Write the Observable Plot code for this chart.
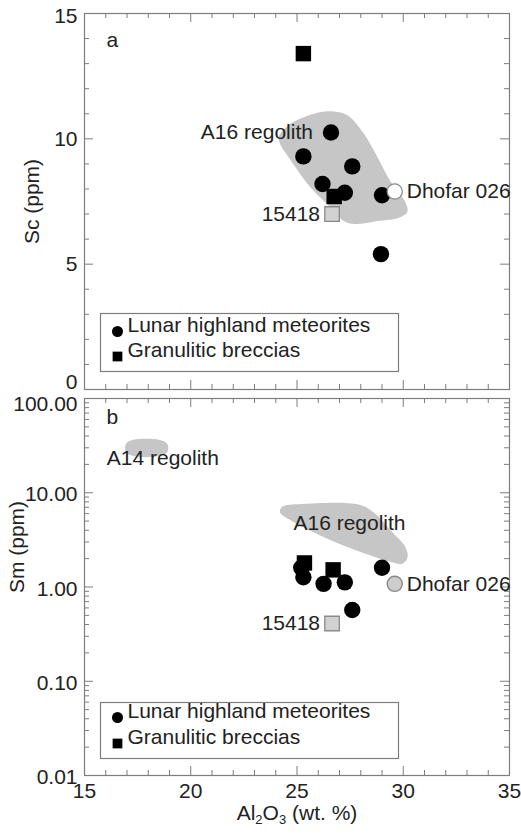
<!DOCTYPE html>
<html><head><meta charset="utf-8">
<script src="https://cdn.jsdelivr.net/npm/d3@7"></script>
<script src="https://cdn.jsdelivr.net/npm/@observablehq/plot@0.6"></script>
<style>
body{margin:0;background:#fff;}
#wrap{position:relative;width:521px;height:835px;font-family:"Liberation Sans",Arial,Helvetica,sans-serif;}
#wrap svg{position:absolute;left:0;overflow:visible;}
</style></head><body><div id="wrap"></div>
<script>
// ---------- axes / ticks ----------
const xDomain = [15, 35];
const xTickLabels = [15, 20, 25, 30, 35];
const xMinorTicks = [16,17,18,19,21,22,23,24,26,27,28,29,31,32,33,34];
const yDomainA = [0, 15];
const yTickLabelsA = [0, 5, 10, 15];
const yMinorTicksA = [1,2,3,4,6,7,8,9,11,12,13,14];
const yDomainB = [0.01, 100];
const yTickLabelsB = [0.01, 0.1, 1, 10, 100];
const logMultipliers = [2,3,4,5,6,7,8,9];
const yLabelA = "Sc (ppm)";
const yLabelB = "Sm (ppm)";
const xLabel = "Al2O3 (wt. %)";
const legendLabels = ["Lunar highland meteorites", "Granulitic breccias"];
const legendSymbols = ["circle", "square"];

// ---------- panel a data (Sc) ----------
const circlesA_x = [26.6, 25.3, 27.6, 26.2, 27.25, 29.0, 28.95];
const circlesA_y = [10.25, 9.3, 8.9, 8.2, 7.85, 7.75, 5.4];
const squaresA_x = [25.3, 26.75];
const squaresA_y = [13.4, 7.7];
const dhofarA = [29.6, 7.9];
const s15418A = [26.65, 7.0];
const regionA_x = [24.15, 24.7, 25.8, 26.5, 27.35, 28.15, 28.8, 29.4, 30.05, 30.2, 29.8, 28.8, 27.7, 27.2, 26.6, 25.65, 24.7, 24.2];
const regionA_y = [10.1, 10.6, 11.0, 11.1, 10.95, 10.2, 9.25, 8.3, 7.55, 7.1, 6.85, 6.72, 6.6, 6.72, 7.25, 8.05, 9.15, 9.8];
const annoA_text = ["A16 regolith"];
const annoA_x = [25.75];
const annoA_y = [10.25];

// ---------- panel b data (Sm) ----------
const circlesB_x = [25.2, 25.3, 26.25, 27.25, 27.6, 29.0];
const circlesB_y = [1.6, 1.27, 1.08, 1.12, 0.57, 1.6];
const squaresB_x = [25.35, 26.7];
const squaresB_y = [1.8, 1.52];
const dhofarB = [29.6, 1.08];
const s15418B = [26.65, 0.41];
const regionB16_x = [24.3, 25.2, 27.9, 28.6, 29.4, 30.1, 30.2, 29.95, 29.4, 28.0, 26.3, 24.7, 24.2];
const regionB16_y = [7.1, 7.6, 7.5, 6.2, 4.0, 2.65, 2.05, 1.76, 1.85, 2.35, 3.35, 5.1, 6.2];
const regionB14_x = [16.95, 17.3, 18.5, 18.9, 18.9, 18.5, 17.3, 16.95];
const regionB14_y = [33, 36.5, 36.5, 33, 27, 24.5, 24.5, 27];
const annoB16_text = ["A16 regolith"];
const annoB16_x = [27.47];
const annoB16_y = [4.7];
const annoB14_text = ["A14 regolith"];
const annoB14_x = [16.05];
const annoB14_y = [23.5];

const pointLabels = ["Dhofar 026", "15418"];

// ---------- style ----------
const FONT = "Liberation Sans, Arial, Helvetica, sans-serif";
const FS = 21;
const AX = "#7d7d7d";
const TXT = "#222";
const REG = "#c6c6c6";
const W = 521, ML = 84, MR = 12;
const PW = W - ML - MR;

const idx = a => a.map((_, i) => i);

function frameMarks(H, yMaj, yMin) {
  const t = (data, o) => o.kind === "x"
    ? Plot.tickX(data, {x: d => d, stroke: AX, strokeWidth: 1, ...o.inset})
    : Plot.tickY(data, {y: d => d, stroke: AX, strokeWidth: 1, ...o.inset});
  const xMaj = xTickLabels;
  return [
    t(xMaj, {kind: "x", inset: {insetTop: H - 9}}),
    t(xMaj, {kind: "x", inset: {insetBottom: H - 9}}),
    t(xMinorTicks, {kind: "x", inset: {insetTop: H - 5}}),
    t(xMinorTicks, {kind: "x", inset: {insetBottom: H - 5}}),
    t(yMaj, {kind: "y", inset: {insetRight: PW - 9}}),
    t(yMaj, {kind: "y", inset: {insetLeft: PW - 9}}),
    t(yMin, {kind: "y", inset: {insetRight: PW - 5}}),
    t(yMin, {kind: "y", inset: {insetLeft: PW - 5}}),
    Plot.frame({stroke: AX, strokeWidth: 1.2})
  ];
}

function legend(rowDy) {
  const out = [];
  legendLabels.forEach((lab, i) => {
    out.push(Plot.dot([lab], {frameAnchor: "bottom-left", dx: 33, dy: rowDy[i], symbol: legendSymbols[i], r: 5.5, fill: "#000", stroke: "none"}));
    out.push(Plot.text([lab], {text: d => d, frameAnchor: "bottom-left", dx: 43, dy: rowDy[i], textAnchor: "start", fontSize: FS, fill: TXT}));
  });
  return out;
}

// ---------- panel a ----------
const HA = 397, MTA = 13, MBA = 8;
const labelMarksA = yTickLabelsA.map((v, i) => Plot.text([v], {
  y: d => d, text: d => String(d), frameAnchor: "left", dx: -7,
  dy: i === 0 ? -7 : i === yTickLabelsA.length - 1 ? 3 : 0,
  textAnchor: "end", fontSize: FS, fill: TXT}));
const plotA = Plot.plot({
  width: W, height: HA, marginTop: MTA, marginBottom: MBA, marginLeft: ML, marginRight: MR,
  style: {fontFamily: FONT, fontSize: FS + "px", background: "transparent", overflow: "visible"},
  x: {domain: xDomain, axis: null},
  y: {domain: yDomainA, axis: null},
  marks: [
    Plot.line(idx(regionA_x), {x: i => regionA_x[i], y: i => regionA_y[i], fill: REG, stroke: "none", curve: "catmull-rom-closed"}),
    ...frameMarks(HA - MTA - MBA, yTickLabelsA, yMinorTicksA),
    ...labelMarksA,
    Plot.text([yLabelA], {text: d => d, frameAnchor: "left", dx: -52, rotate: -90, textAnchor: "middle", fontSize: FS, fill: TXT}),
    Plot.text(["a"], {text: d => d, frameAnchor: "top-left", dx: 22, dy: 19, textAnchor: "start", fontSize: FS, fill: TXT}),
    Plot.frame({stroke: AX, strokeWidth: 1.2, insetLeft: 16, insetRight: 111, insetTop: 300, insetBottom: 18}),
    ...legend([-58, -33]),
    Plot.text(idx(annoA_text), {x: i => annoA_x[i], y: i => annoA_y[i], text: i => annoA_text[i], textAnchor: "end", fontSize: FS, fill: TXT}),
    Plot.dot(idx(circlesA_x), {x: i => circlesA_x[i], y: i => circlesA_y[i], r: 8.2, fill: "#000", stroke: "none"}),
    Plot.dot(idx(squaresA_x), {x: i => squaresA_x[i], y: i => squaresA_y[i], r: 8.7, symbol: "square", fill: "#000", stroke: "none"}),
    Plot.dot([dhofarA], {x: d => d[0], y: d => d[1], r: 7.6, fill: "#fff", stroke: "#8a8a8a", strokeWidth: 1.3}),
    Plot.dot([s15418A], {x: d => d[0], y: d => d[1], r: 8.2, symbol: "square", fill: "#d2d2d2", stroke: "#8a8a8a", strokeWidth: 1.3}),
    Plot.text([dhofarA], {x: d => d[0], y: d => d[1], text: () => pointLabels[0], dx: 12, textAnchor: "start", fontSize: FS, fill: TXT}),
    Plot.text([s15418A], {x: d => d[0], y: d => d[1], text: () => pointLabels[1], dx: -12, textAnchor: "end", fontSize: FS, fill: TXT})
  ]
});

// ---------- panel b ----------
const HB = 438, MTB = 1, MBB = 60;
const logMinor = yTickLabelsB.slice(0, -1).flatMap(v => logMultipliers.map(m => v * m));
const fmt2 = d3.format(".2f");
const labelMarksB = yTickLabelsB.map((v, i) => Plot.text([v], {
  y: d => d, text: d => fmt2(d), frameAnchor: "left", dx: -7,
  dy: i === yTickLabelsB.length - 1 ? 6 : 2,
  textAnchor: "end", fontSize: FS, fill: TXT}));
const plotB = Plot.plot({
  width: W, height: HB, marginTop: MTB, marginBottom: MBB, marginLeft: ML, marginRight: MR,
  style: {fontFamily: FONT, fontSize: FS + "px", background: "transparent", overflow: "visible"},
  x: {domain: xDomain, axis: null},
  y: {type: "log", domain: yDomainB, axis: null},
  marks: [
    Plot.line(idx(regionB16_x), {x: i => regionB16_x[i], y: i => regionB16_y[i], fill: REG, stroke: "none", curve: "catmull-rom-closed"}),
    Plot.line(idx(regionB14_x), {x: i => regionB14_x[i], y: i => regionB14_y[i], fill: REG, stroke: "none", curve: "catmull-rom-closed"}),
    ...frameMarks(HB - MTB - MBB, yTickLabelsB, logMinor),
    ...labelMarksB,
    Plot.text(xTickLabels, {x: d => d, text: d => String(d), frameAnchor: "bottom", dy: 22, fontSize: FS, fill: TXT}),
    Plot.text([yLabelB], {text: d => d, frameAnchor: "left", dx: -67, dy: -40, rotate: -90, textAnchor: "middle", fontSize: FS, fill: TXT}),
    Plot.text([xLabel], {text: d => d, frameAnchor: "bottom", dy: 44, fontSize: FS, fill: TXT}),
    Plot.text(["b"], {text: d => d, frameAnchor: "top-left", dx: 22, dy: 11, textAnchor: "start", fontSize: FS, fill: TXT}),
    Plot.frame({stroke: AX, strokeWidth: 1.2, insetLeft: 16, insetRight: 111, insetTop: 304, insetBottom: 17}),
    ...legend([-58, -32]),
    Plot.text(idx(annoB16_text), {x: i => annoB16_x[i], y: i => annoB16_y[i], text: i => annoB16_text[i], textAnchor: "middle", fontSize: FS, fill: TXT}),
    Plot.text(idx(annoB14_text), {x: i => annoB14_x[i], y: i => annoB14_y[i], text: i => annoB14_text[i], textAnchor: "start", fontSize: FS, fill: TXT}),
    Plot.dot(idx(circlesB_x), {x: i => circlesB_x[i], y: i => circlesB_y[i], r: 8.2, fill: "#000", stroke: "none"}),
    Plot.dot(idx(squaresB_x), {x: i => squaresB_x[i], y: i => squaresB_y[i], r: 8.7, symbol: "square", fill: "#000", stroke: "none"}),
    Plot.dot([dhofarB], {x: d => d[0], y: d => d[1], r: 7.6, fill: "#cdcdcd", stroke: "#8a8a8a", strokeWidth: 1.3}),
    Plot.dot([s15418B], {x: d => d[0], y: d => d[1], r: 8.2, symbol: "square", fill: "#d2d2d2", stroke: "#8a8a8a", strokeWidth: 1.3}),
    Plot.text([dhofarB], {x: d => d[0], y: d => d[1], text: () => pointLabels[0], dx: 12, textAnchor: "start", fontSize: FS, fill: TXT}),
    Plot.text([s15418B], {x: d => d[0], y: d => d[1], text: () => pointLabels[1], dx: -12, textAnchor: "end", fontSize: FS, fill: TXT})
  ]
});

const wrap = document.getElementById("wrap");
plotA.style.top = "0px";
plotB.style.top = "397px";
wrap.appendChild(plotA);
wrap.appendChild(plotB);

// subscripts in the x label
plotB.querySelectorAll("text").forEach(t => {
  if (t.textContent === xLabel) {
    t.innerHTML = 'Al<tspan dy="4" font-size="13">2</tspan><tspan dy="-4">O</tspan><tspan dy="4" font-size="13">3</tspan><tspan dy="-4"> (wt. %)</tspan>';
  }
});
</script></body></html>
